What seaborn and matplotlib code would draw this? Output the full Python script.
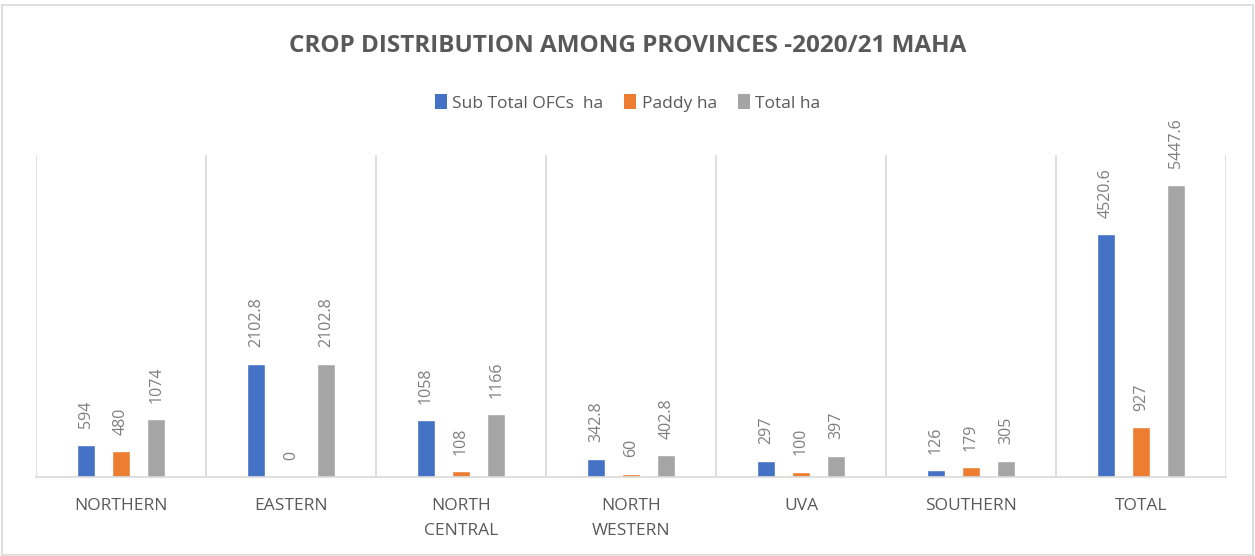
import matplotlib
matplotlib.use("Agg")
import matplotlib.pyplot as plt
import seaborn as sns
import pandas as pd
from matplotlib.patches import Rectangle, Patch

categories = ["NORTHERN", "EASTERN", "NORTH\nCENTRAL", "NORTH\nWESTERN", "UVA", "SOUTHERN", "TOTAL"]
series_names = ["Sub Total OFCs  ha", "Paddy ha", "Total ha"]
sub_total_ofcs = [594, 2102.8, 1058, 342.8, 297, 126, 4520.6]
paddy = [480, 0, 108, 60, 100, 179, 927]
total = [1074, 2102.8, 1166, 402.8, 397, 305, 5447.6]
colors = ["#4472C4", "#ED7D31", "#A5A5A5"]

rows = []
for name, vals in zip(series_names, [sub_total_ofcs, paddy, total]):
    for c, v in zip(categories, vals):
        rows.append({"category": c, "series": name, "value": v})
df = pd.DataFrame(rows)

sns.set_theme(style="white")
plt.rcParams['font.family'] = ['Open Sans', 'DejaVu Sans']

fig = plt.figure(figsize=(12.55, 5.56), dpi=100)
ax = fig.add_axes([36/1255, 1-477/556, (1226-36)/1255, (477-155)/556])

sns.barplot(data=df, x="category", y="value", hue="series", order=categories,
            hue_order=series_names, palette=colors, width=0.62, gap=0.47,
            ax=ax, legend=False, saturation=1)

def fmt(v):
    return f"{v:g}"

for cont in ax.containers:
    labels = [fmt(b.get_height()) for b in cont]
    ax.bar_label(cont, labels=labels, rotation=90, padding=12, fontsize=11.5,
                 color="#7F7F7F")

ax.set_ylim(0, 6000)
ax.set_xlim(-0.5, 6.5)
for i in range(8):
    ax.axvline(-0.5 + i, color="#D9D9D9", lw=1.2, zorder=0)
for s in ["top", "right", "left"]:
    ax.spines[s].set_visible(False)
ax.spines["bottom"].set_color("#D9D9D9")
ax.spines["bottom"].set_linewidth(1.2)
ax.set_yticks([])
ax.set_xlabel("")
ax.set_ylabel("")
ax.tick_params(axis="x", length=0, pad=15)
ax.set_xticks(range(len(categories)))
ax.set_xticklabels(categories, fontsize=12.5, color="#595959", linespacing=1.75)

fig.text(0.5, 1-46/556, "CROP DISTRIBUTION AMONG PROVINCES -2020/21 MAHA",
         ha="center", va="center", fontsize=17.5, fontweight="bold", color="#595959")

handles = [Patch(facecolor=c, edgecolor="none") for c in colors]
fig.legend(handles, series_names, loc="center", bbox_to_anchor=(0.5, 1-103/556),
           ncol=3, frameon=False, fontsize=12.5, handlelength=0.7, handleheight=0.9,
           handletextpad=0.3, columnspacing=1.2, labelcolor="#595959")

fig.patches.append(Rectangle((2/1255, 1/556), 1-4/1255, 1-6/556, transform=fig.transFigure,
                             fill=False, edgecolor="#D9D9D9", lw=1.2))

fig.savefig("out.png", dpi=100)
